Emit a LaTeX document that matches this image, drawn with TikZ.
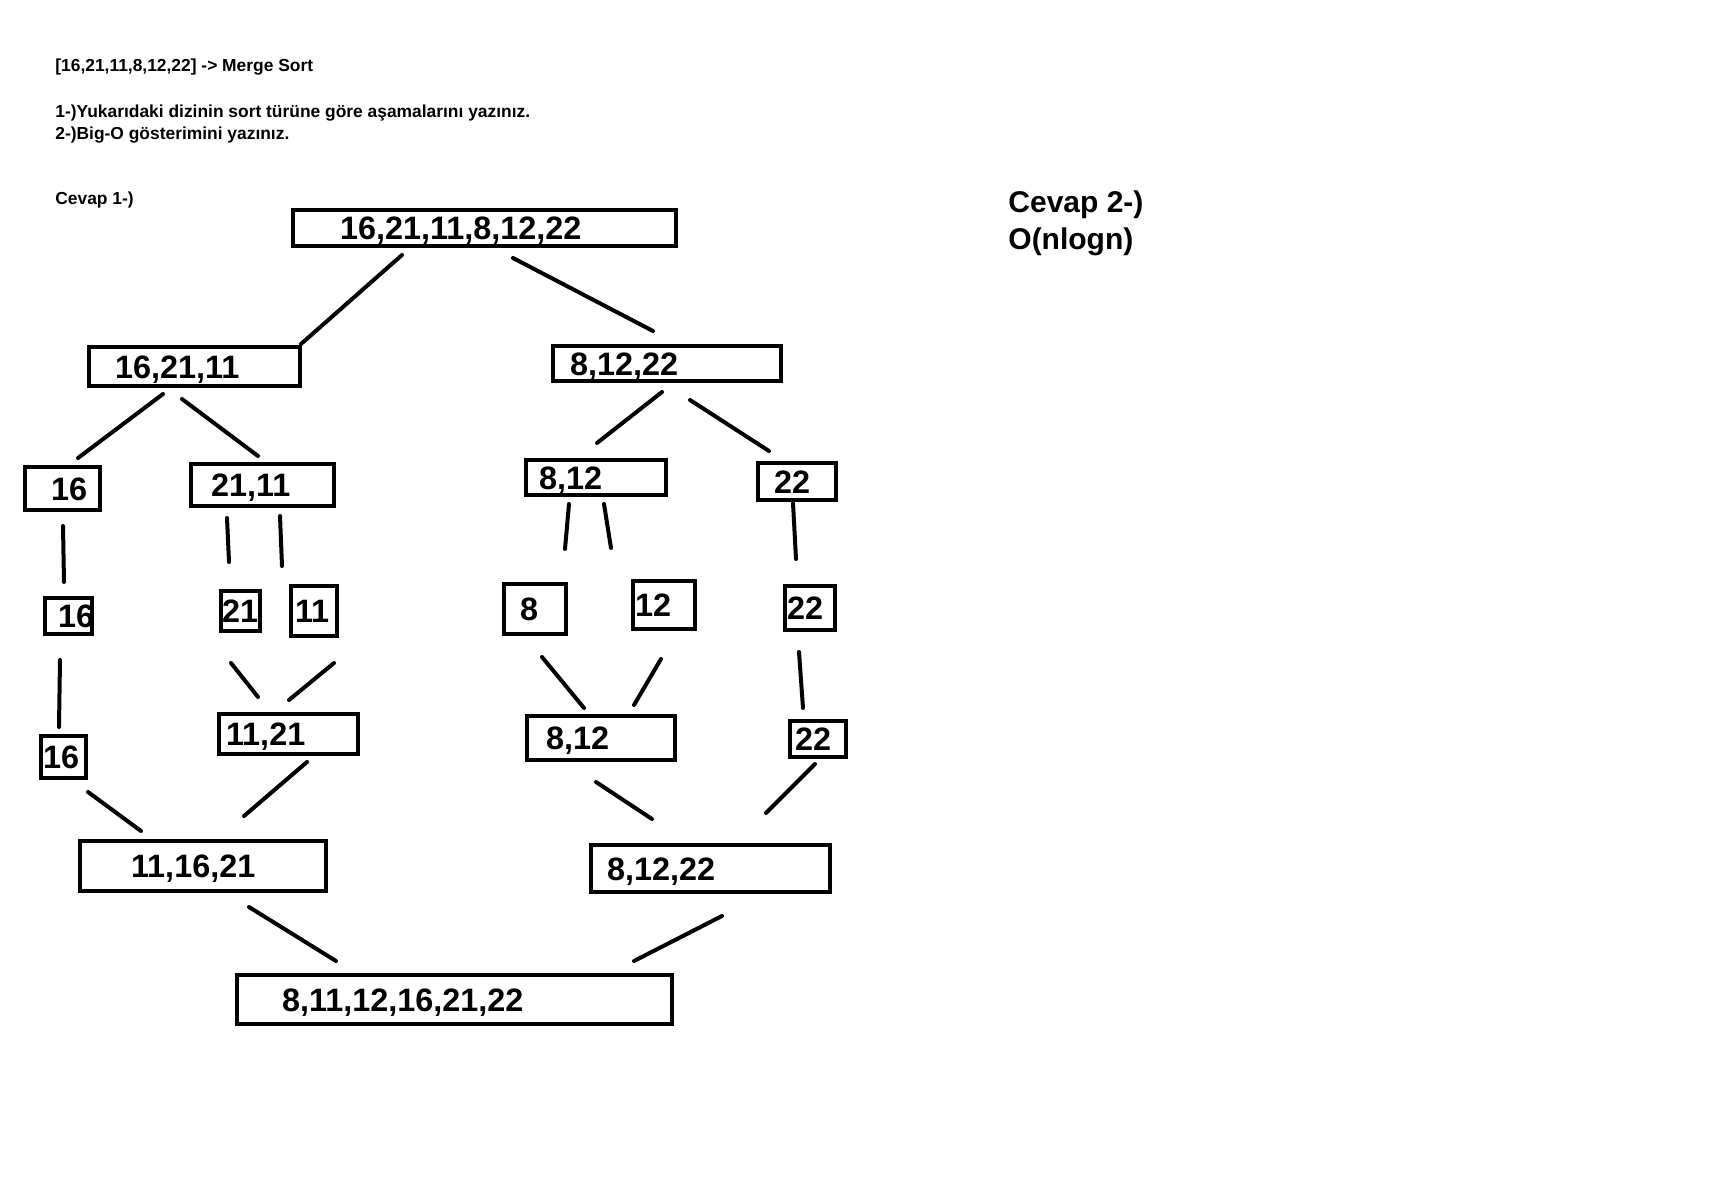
\documentclass[tikz,border=0pt]{standalone}
\usepackage{fontspec}
\setmainfont{Liberation Sans}

\begin{document}
\begin{tikzpicture}[x=0.5pt, y=-0.5pt,
    box/.style={draw, line width=2pt, inner ysep=0pt, align=left,
      text height=11.5pt, text depth=0pt, font=\bfseries\fontsize{16.2}{16}\selectfont},
    link/.style={line width=2pt, line cap=round},
    note/.style={anchor=base west, inner sep=0pt, font=\bfseries\fontsize{8.7}{10}\selectfont},
    answer/.style={anchor=base west, inner sep=0pt, font=\bfseries\fontsize{15}{18}\selectfont}]
    \useasboundingbox (0,0) rectangle (1729,1188);

    % Question text
    \node[note] (title) at (55,71.5) {[16,21,11,8,12,22] -> Merge Sort};
    \node[note] (q1) at (55,118) {1-)Yukarıdaki dizinin sort türüne göre aşamalarını yazınız.};
    \node[note] (q2) at (55,139.5) {2-)Big-O gösterimini yazınız.};
    \node[note] (ans1) at (55,205) {Cevap 1-)};
    \node[answer] (ans2) at (1008,212) {Cevap 2-)};
    \node[answer] (bigo) at (1008,249) {O(nlogn)};

    % Splitting
    \node[box, minimum height=18pt, inner xsep=23.5pt, text width=144.5pt] (root) at (484.5,228) {16,21,11,8,12,22};
    \node[box, minimum height=19.5pt, inner xsep=13pt, text width=79.5pt] (left) at (194.5,366.5) {16,21,11};
    \node[box, minimum height=17.5pt, inner xsep=8.5pt, text width=97pt] (right) at (667,363.5) {8,12,22};
    \node[box, minimum height=21.5pt, inner xsep=13pt, text width=11.5pt] (l16) at (62.5,488.5) {16};
    \node[box, minimum height=21pt, inner xsep=10pt, text width=51.5pt] (l2111) at (262.5,485) {21,11};
    \node[box, minimum height=17.5pt, inner xsep=6.5pt, text width=57pt] (r812) at (596,477.5) {8,12};
    \node[box, minimum height=18.5pt, inner xsep=8pt, text width=23pt] (r22) at (797,481.5) {22};

    % Single elements
    \node[box, minimum height=18pt, inner xsep=6.5pt, text width=10.5pt] (s16) at (68.5,616) {16};
    \node[box, minimum height=20pt, inner xsep=0.5pt, text width=18.5pt] (s21) at (240.5,611) {21};
    \node[box, minimum height=25pt, inner xsep=2pt, text width=19pt] (s11) at (314,611) {11};
    \node[box, minimum height=25pt, inner xsep=8pt, text width=15pt] (s8) at (535,609) {8};
    \node[box, minimum height=24pt, inner xsep=1pt, text width=29pt] (s12) at (664,605) {12};
    \node[box, minimum height=22pt, inner xsep=1pt, text width=23pt] (s22) at (810,608) {22};

    % Merging
    \node[box, minimum height=21pt, inner xsep=1pt, text width=20.5pt] (m16) at (63.5,757) {16};
    \node[box, minimum height=20pt, inner xsep=3.5pt, text width=62.5pt] (m1121) at (288.5,734) {11,21};
    \node[box, minimum height=22pt, inner xsep=9.5pt, text width=55pt] (m812) at (601,738) {8,12};
    \node[box, minimum height=18pt, inner xsep=2.5pt, text width=23pt] (m22) at (818,739) {22};
    \node[box, minimum height=25pt, inner xsep=25.5pt, text width=72pt] (mleft) at (203,866) {11,16,21};
    \node[box, minimum height=23.5pt, inner xsep=8pt, text width=103.5pt] (mright) at (710.5,868.5) {8,12,22};
    \node[box, minimum height=24.5pt, inner xsep=22.5pt, text width=172.5pt] (sorted) at (454.5,999.5) {8,11,12,16,21,22};

    % Connectors
    \draw[link] ([shift={(-82.5,27)}]root.center) -- ([shift={(106.5,-22.5)}]left.center);
    \draw[link] ([shift={(28.5,30)}]root.center) -- ([shift={(-14,-32.5)}]right.center);
    \draw[link] ([shift={(-31.5,27.5)}]left.center) -- ([shift={(15.5,-30.5)}]l16.center);
    \draw[link] ([shift={(-12.5,32.5)}]left.center) -- ([shift={(-4.5,-29)}]l2111.center);
    \draw[link] ([shift={(-5,28.5)}]right.center) -- ([shift={(1,-34.5)}]r812.center);
    \draw[link] ([shift={(23,36.5)}]right.center) -- ([shift={(-28,-30.5)}]r22.center);
    \draw[link] ([shift={(0.5,37.5)}]l16.center) -- ([shift={(-4.5,-34)}]s16.center);
    \draw[link] ([shift={(-35.5,33)}]l2111.center) -- ([shift={(-11.5,-49)}]s21.center);
    \draw[link] ([shift={(17.5,31)}]l2111.center) -- ([shift={(-32,-45)}]s11.center);
    \draw[link] ([shift={(-27,26.5)}]r812.center) -- ([shift={(30,-60)}]s8.center);
    \draw[link] ([shift={(8,26.5)}]r812.center) -- ([shift={(-53,-57)}]s12.center);
    \draw[link] ([shift={(-4,21.5)}]r22.center) -- ([shift={(-14,-49)}]s22.center);
    \draw[link] ([shift={(-8.5,44)}]s16.center) -- ([shift={(-4.5,-30)}]m16.center);
    \draw[link] ([shift={(-9.5,52)}]s21.center) -- ([shift={(-30.5,-37)}]m1121.center);
    \draw[link] ([shift={(20,52)}]s11.center) -- ([shift={(0.5,-34)}]m1121.center);
    \draw[link] ([shift={(7,48)}]s8.center) -- ([shift={(-17,-30)}]m812.center);
    \draw[link] ([shift={(-3,54)}]s12.center) -- ([shift={(33,-33)}]m812.center);
    \draw[link] ([shift={(-11,44)}]s22.center) -- ([shift={(-15,-31)}]m22.center);
    \draw[link] ([shift={(24.5,35)}]m16.center) -- ([shift={(-62,-35)}]mleft.center);
    \draw[link] ([shift={(18.5,28)}]m1121.center) -- ([shift={(41,-50)}]mleft.center);
    \draw[link] ([shift={(-5,44)}]m812.center) -- ([shift={(-58.5,-49.5)}]mright.center);
    \draw[link] ([shift={(-3,25)}]m22.center) -- ([shift={(55.5,-55.5)}]mright.center);
    \draw[link] ([shift={(46,41)}]mleft.center) -- ([shift={(-118.5,-38.5)}]sorted.center);
    \draw[link] ([shift={(11.5,47.5)}]mright.center) -- ([shift={(179.5,-38.5)}]sorted.center);
\end{tikzpicture}
\end{document}
